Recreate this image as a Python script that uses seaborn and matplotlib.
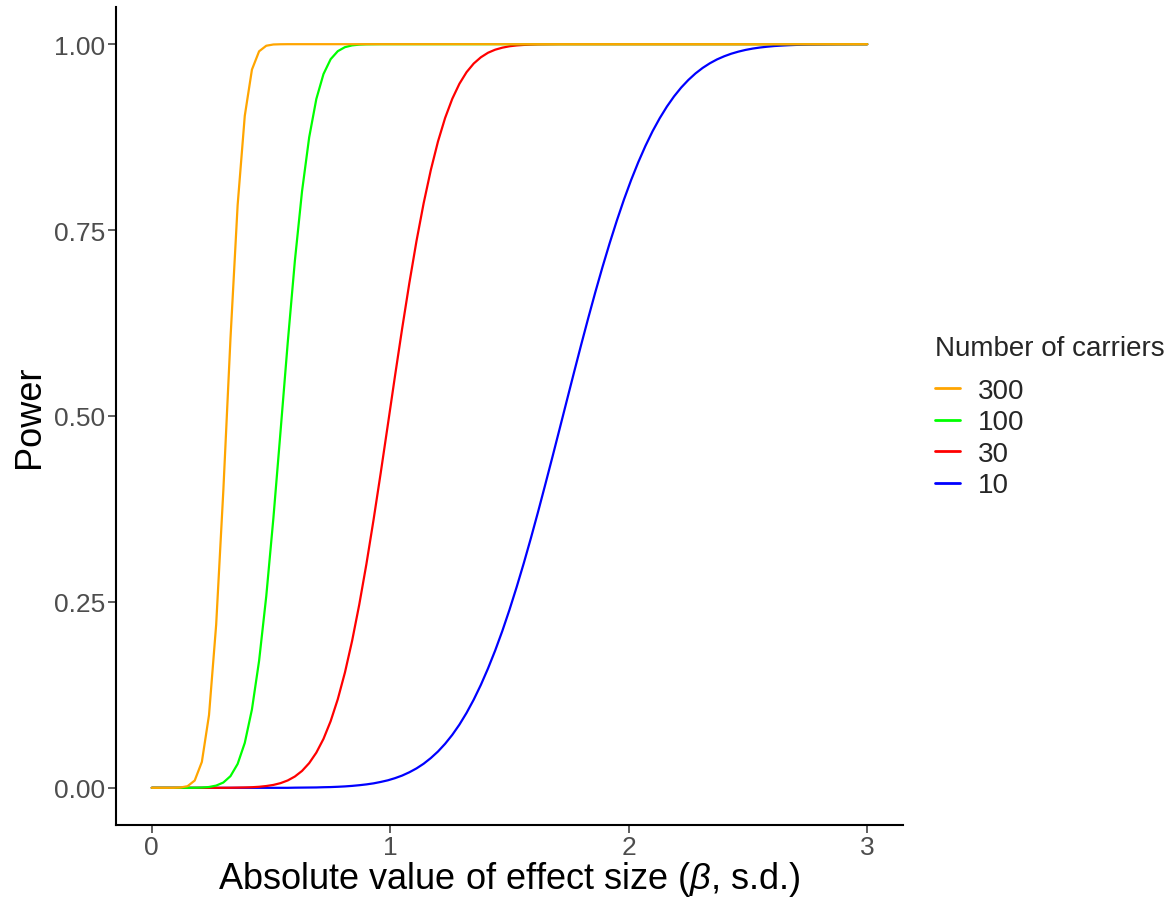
import matplotlib
matplotlib.use("Agg")
import matplotlib.pyplot as plt
import seaborn as sns
import pandas as pd

# ---------------- data ----------------
effect_size = [
    0.00, 0.03, 0.06, 0.09, 0.12, 0.15, 0.18, 0.21, 0.24, 0.27,
    0.30, 0.33, 0.36, 0.39, 0.42, 0.45, 0.48, 0.51, 0.54, 0.57,
    0.60, 0.63, 0.66, 0.69, 0.72, 0.75, 0.78, 0.81, 0.84, 0.87,
    0.90, 0.93, 0.96, 0.99, 1.02, 1.05, 1.08, 1.11, 1.14, 1.17,
    1.20, 1.23, 1.26, 1.29, 1.32, 1.35, 1.38, 1.41, 1.44, 1.47,
    1.50, 1.53, 1.56, 1.59, 1.62, 1.65, 1.68, 1.71, 1.74, 1.77,
    1.80, 1.83, 1.86, 1.89, 1.92, 1.95, 1.98, 2.01, 2.04, 2.07,
    2.10, 2.13, 2.16, 2.19, 2.22, 2.25, 2.28, 2.31, 2.34, 2.37,
    2.40, 2.43, 2.46, 2.49, 2.52, 2.55, 2.58, 2.61, 2.64, 2.67,
    2.70, 2.73, 2.76, 2.79, 2.82, 2.85, 2.88, 2.91, 2.94, 2.97,
    3.00,
]

power_10 = [
    0.0, 0.0, 0.0, 0.0, 0.0, 0.0, 0.0, 0.0, 0.0, 0.0,
    0.0, 0.0, 0.0, 0.0, 0.0, 0.0, 0.0, 0.0, 0.0, 0.0,
    0.0002, 0.0003, 0.0004, 0.0005, 0.0008, 0.0010, 0.0014, 0.0019, 0.0026, 0.0035,
    0.0046, 0.0060, 0.0079, 0.0101, 0.0130, 0.0165, 0.0209, 0.0261, 0.0324, 0.0400,
    0.0488, 0.0592, 0.0712, 0.0850, 0.1008, 0.1186, 0.1385, 0.1606, 0.1847, 0.2110,
    0.2395, 0.2700, 0.3022, 0.3361, 0.3714, 0.4079, 0.4449, 0.4825, 0.5203, 0.5580,
    0.5952, 0.6315, 0.6667, 0.7004, 0.7324, 0.7627, 0.7911, 0.8173, 0.8413, 0.8632,
    0.8830, 0.9005, 0.9161, 0.9298, 0.9417, 0.9519, 0.9607, 0.9681, 0.9743, 0.9795,
    0.9837, 0.9872, 0.9900, 0.9923, 0.9941, 0.9955, 0.9966, 0.9975, 0.9981, 0.9986,
    0.9990, 0.9993, 0.9995, 0.9996, 0.9997, 0.9998, 0.9999, 0.9999, 1.0, 1.0,
    1.0,
]

power_30 = [
    0.0, 0.0, 0.0, 0.0, 0.0, 0.0, 0.0, 0.0, 0.0, 0.0,
    0.0, 0.0001, 0.0003, 0.0005, 0.0008, 0.0014, 0.0024, 0.0039, 0.0063, 0.0099,
    0.0152, 0.0227, 0.0332, 0.0473, 0.0658, 0.0896, 0.1192, 0.1551, 0.1976, 0.2464,
    0.3009, 0.3605, 0.4235, 0.4885, 0.5541, 0.6179, 0.6787, 0.7353, 0.7861, 0.8307,
    0.8690, 0.9008, 0.9265, 0.9468, 0.9624, 0.9740, 0.9824, 0.9885, 0.9926, 0.9953,
    0.9972, 0.9983, 0.9990, 0.9994, 0.9997, 0.9998, 0.9999, 1.0, 1.0, 1.0,
    1.0, 1.0, 1.0, 1.0, 1.0, 1.0, 1.0, 1.0, 1.0, 1.0,
    1.0, 1.0, 1.0, 1.0, 1.0, 1.0, 1.0, 1.0, 1.0, 1.0,
    1.0, 1.0, 1.0, 1.0, 1.0, 1.0, 1.0, 1.0, 1.0, 1.0,
    1.0, 1.0, 1.0, 1.0, 1.0, 1.0, 1.0, 1.0, 1.0, 1.0,
    1.0,
]

power_100 = [
    0.0, 0.0, 0.0, 0.0, 0.0, 0.0, 0.0001, 0.0004, 0.0011, 0.0030,
    0.0071, 0.0157, 0.0321, 0.0604, 0.1054, 0.1708, 0.2575, 0.3628, 0.4796, 0.5983,
    0.7085, 0.8020, 0.8747, 0.9263, 0.9598, 0.9798, 0.9906, 0.9960, 0.9984, 0.9994,
    0.9998, 0.9999, 1.0, 1.0, 1.0, 1.0, 1.0, 1.0, 1.0, 1.0,
    1.0, 1.0, 1.0, 1.0, 1.0, 1.0, 1.0, 1.0, 1.0, 1.0,
    1.0, 1.0, 1.0, 1.0, 1.0, 1.0, 1.0, 1.0, 1.0, 1.0,
    1.0, 1.0, 1.0, 1.0, 1.0, 1.0, 1.0, 1.0, 1.0, 1.0,
    1.0, 1.0, 1.0, 1.0, 1.0, 1.0, 1.0, 1.0, 1.0, 1.0,
    1.0, 1.0, 1.0, 1.0, 1.0, 1.0, 1.0, 1.0, 1.0, 1.0,
    1.0, 1.0, 1.0, 1.0, 1.0, 1.0, 1.0, 1.0, 1.0, 1.0,
    1.0,
]

power_300 = [
    0.0, 0.0, 0.0, 0.0, 0.0004, 0.0022, 0.0098, 0.0348, 0.0978, 0.2193,
    0.3994, 0.6041, 0.7835, 0.9037, 0.9658, 0.9904, 0.9979, 0.9996, 0.9999, 1.0,
    1.0, 1.0, 1.0, 1.0, 1.0, 1.0, 1.0, 1.0, 1.0, 1.0,
    1.0, 1.0, 1.0, 1.0, 1.0, 1.0, 1.0, 1.0, 1.0, 1.0,
    1.0, 1.0, 1.0, 1.0, 1.0, 1.0, 1.0, 1.0, 1.0, 1.0,
    1.0, 1.0, 1.0, 1.0, 1.0, 1.0, 1.0, 1.0, 1.0, 1.0,
    1.0, 1.0, 1.0, 1.0, 1.0, 1.0, 1.0, 1.0, 1.0, 1.0,
    1.0, 1.0, 1.0, 1.0, 1.0, 1.0, 1.0, 1.0, 1.0, 1.0,
    1.0, 1.0, 1.0, 1.0, 1.0, 1.0, 1.0, 1.0, 1.0, 1.0,
    1.0, 1.0, 1.0, 1.0, 1.0, 1.0, 1.0, 1.0, 1.0, 1.0,
    1.0,
]

carriers = ["300", "100", "30", "10"]          # legend order
carrier_colors = ["#FFA500", "#00FF00", "#FF0000", "#0000FF"]
series = {"300": power_300, "100": power_100, "30": power_30, "10": power_10}

y_ticks = [0.00, 0.25, 0.50, 0.75, 1.00]
y_tick_labels = ["0.00", "0.25", "0.50", "0.75", "1.00"]
x_ticks = [0, 1, 2, 3]
x_tick_labels = ["0", "1", "2", "3"]

# ---------------- long table ----------------
frames = []
for c in carriers:
    frames.append(pd.DataFrame({"beta": effect_size, "power": series[c], "carriers": c}))
df = pd.concat(frames, ignore_index=True)

# ---------------- style ----------------
sns.set_theme(style="white")
plt.rcParams["font.family"] = ["Liberation Sans", "DejaVu Sans"]
plt.rcParams["mathtext.fontset"] = "custom"
plt.rcParams["mathtext.rm"] = "Liberation Sans"
plt.rcParams["mathtext.it"] = "Liberation Sans:italic"

fig = plt.figure(figsize=(11.72, 9.03), dpi=100)
ax = fig.add_axes([116 / 1172, 1 - 826 / 903, (903 - 116) / 1172, (826 - 8) / 903])

color_map = dict(zip(carriers, carrier_colors))
handles = {}
for c in ["10", "30", "100", "300"]:        # draw orange last (on top)
    sub = df[df["carriers"] == c]
    sns.lineplot(data=sub, x="beta", y="power", color=color_map[c], lw=1.6,
                 ax=ax, label=c, legend=False)
    handles[c] = ax.lines[-1]

ax.set_xlim(-0.15, 3.15)
ax.set_ylim(-0.05, 1.05)
ax.set_xticks(x_ticks, x_tick_labels)
ax.set_yticks(y_ticks, y_tick_labels)

for side in ["top", "right"]:
    ax.spines[side].set_visible(False)
for side in ["left", "bottom"]:
    ax.spines[side].set_color("black")
    ax.spines[side].set_linewidth(1.5)

ax.tick_params(axis="both", which="major", direction="out", length=6, width=1.1,
               color="#333333", labelcolor="#4D4D4D", labelsize=19, pad=2,
               left=True, bottom=True)
ax.tick_params(axis="x", pad=1)

ax.set_xlabel(r"Absolute value of effect size ($\it{\beta}$, s.d.)", fontsize=26, color="black", labelpad=0)
ax.set_ylabel("Power", fontsize=26, color="black", labelpad=5)

leg = fig.legend([handles[c] for c in carriers], carriers, title="Number of carriers",
                 loc="upper left", bbox_to_anchor=(935 / 1172, 1 - 336 / 903),
                 frameon=False, fontsize=20, title_fontsize=20,
                 handlelength=0.9, handletextpad=0.65, labelspacing=0.2,
                 borderpad=0, borderaxespad=0, alignment="left")
leg._legend_box.sep = 12
for line in leg.get_lines():
    line.set_linewidth(2.0)

fig.savefig("out.png", dpi=100)
